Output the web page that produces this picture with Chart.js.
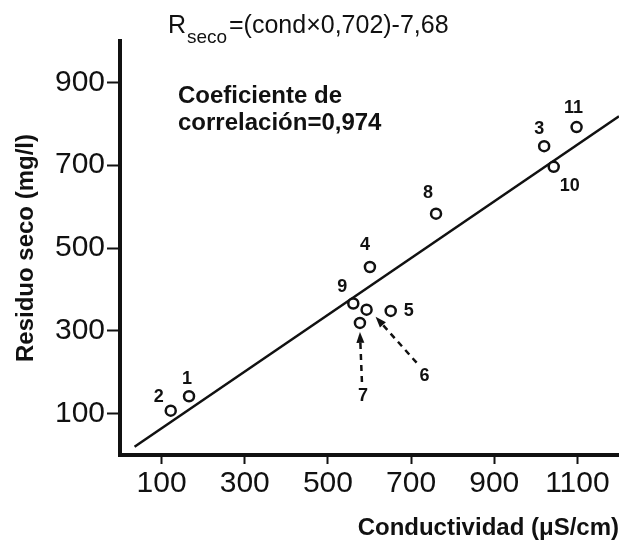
<!DOCTYPE html>
<html>
<head>
<meta charset="utf-8">
<script src="https://cdn.jsdelivr.net/npm/chart.js@4"></script>
<style>
  html, body { margin: 0; padding: 0; background: #fff; overflow: hidden; }
  canvas { display: block; }
</style>
</head>
<body>
<canvas id="myScatterChart" width="619" height="541"></canvas>
<script>
///////////////////////////////////////
////////////// Data ///////////////////
///////////////////////////////////////

// sample numbers and their readings
const pointIds = ['1', '2', '3', '4', '5', '6', '7', '8', '9', '10', '11'];
const conductividad = [166, 122, 1020, 601, 651, 593, 577, 760, 561, 1043, 1098];
const residuoSeco = [142, 107, 746, 454, 348, 351, 319, 583, 366, 696, 792];

// fitted line as drawn (two ends)
const lineX = [35, 1200];
const lineY = [20, 818];

const xTicks = [100, 300, 500, 700, 900, 1100];
const yTicks = [100, 300, 500, 700, 900];

// label offsets from each point, in px
const labelOffsets = {
    '1': [-2, -17], '2': [-12, -14], '3': [-5, -17], '4': [-5, -22],
    '5': [18, 0], '6': [58, 66], '7': [3, 73], '8': [-8, -21],
    '9': [-11, -16], '10': [16, 19], '11': [-3, -19]
};
// dashed arrows: [tail offset, head offset] from the point, in px
const arrows = {
    '6': [[50, 53], [9, 7]],
    '7': [[2, 59], [0, 9]]
};

///////////////////////////////////////
////////////// Annotations ////////////
///////////////////////////////////////

const annotations = {
    id: 'annotations',
    afterDatasetsDraw(chart) {
        const ctx = chart.ctx;
        const xs = chart.scales.x;
        const ys = chart.scales.y;
        ctx.save();
        ctx.fillStyle = '#111';
        ctx.strokeStyle = '#111';

        // equation
        ctx.textAlign = 'left';
        ctx.textBaseline = 'alphabetic';
        ctx.font = '25px "Liberation Sans", Arial, sans-serif';
        ctx.fillText('R', 168, 33);
        ctx.font = '19px "Liberation Sans", Arial, sans-serif';
        ctx.fillText('seco', 187, 43);
        ctx.font = '25px "Liberation Sans", Arial, sans-serif';
        ctx.fillText('=(cond\u00d70,702)-7,68', 229, 33);

        // correlation
        ctx.font = 'bold 24px "Liberation Sans", Arial, sans-serif';
        ctx.fillText('Coeficiente de', 178, 103);
        ctx.fillText('correlaci\u00f3n=0,974', 178, 130);

        // point numbers
        ctx.font = 'bold 18px "Liberation Sans", Arial, sans-serif';
        ctx.textAlign = 'center';
        ctx.textBaseline = 'middle';
        pointIds.forEach((id, i) => {
            const px = xs.getPixelForValue(conductividad[i]);
            const py = ys.getPixelForValue(residuoSeco[i]);
            const off = labelOffsets[id];
            ctx.fillText(id, px + off[0], py + off[1]);

            const arr = arrows[id];
            if (arr) {
                const x1 = px + arr[0][0], y1 = py + arr[0][1];
                const x2 = px + arr[1][0], y2 = py + arr[1][1];
                const ang = Math.atan2(y2 - y1, x2 - x1);
                ctx.lineWidth = 2.5;
                ctx.setLineDash([6, 5]);
                ctx.beginPath();
                ctx.moveTo(x1, y1);
                ctx.lineTo(x2 - 8 * Math.cos(ang), y2 - 8 * Math.sin(ang));
                ctx.stroke();
                ctx.setLineDash([]);
                ctx.beginPath();
                ctx.moveTo(x2, y2);
                ctx.lineTo(x2 - 11 * Math.cos(ang) + 4 * Math.sin(ang), y2 - 11 * Math.sin(ang) - 4 * Math.cos(ang));
                ctx.lineTo(x2 - 11 * Math.cos(ang) - 4 * Math.sin(ang), y2 - 11 * Math.sin(ang) + 4 * Math.cos(ang));
                ctx.closePath();
                ctx.fill();
            }
        });
        ctx.restore();
    }
};

///////////////////////////////////////
////////////// Scatter Chart //////////
///////////////////////////////////////

const tickFont = { family: '"Liberation Sans", Arial, sans-serif', size: 30 };
const titleFont = { family: '"Liberation Sans", Arial, sans-serif', size: 24, weight: 'bold', lineHeight: 1 };

const scatterChart = document.getElementById('myScatterChart');
const myScatterChart = new Chart(scatterChart, {
    type: 'scatter',
    data: {
        datasets: [
            // regression line
            {
                type: 'line',
                data: lineX.map((x, i) => ({ x: x, y: lineY[i] })),
                borderColor: '#111',
                borderWidth: 2.5,
                pointRadius: 0,
                fill: false,
                order: 2
            },
            // samples
            {
                data: conductividad.map((x, i) => ({ x: x, y: residuoSeco[i] })),
                pointStyle: 'circle',
                pointRadius: 5,
                pointBorderWidth: 2.5,
                pointBackgroundColor: '#fff',
                pointBorderColor: '#111',
                order: 1
            }
        ]
    },
    options: {
        responsive: false,
        animation: false,
        events: [],
        devicePixelRatio: 1,
        layout: {
            autoPadding: false,
            padding: { top: 41, right: 0, left: 0, bottom: 0 }
        },
        scales: {
            x: {
                type: 'linear',
                min: 0,
                max: 1200,
                afterBuildTicks: (axis) => { axis.ticks = xTicks.map(v => ({ value: v })); },
                afterFit: (axis) => {
                    axis.height = 86;
                    axis.paddingLeft = 0;
                    axis.paddingRight = 0;
                },
                ticks: {
                    color: '#111',
                    font: tickFont,
                    padding: 2,
                    maxRotation: 0,
                    autoSkip: false,
                    callback: (v) => String(v)
                },
                grid: {
                    display: true,
                    drawOnChartArea: false,
                    drawTicks: true,
                    tickLength: 9,
                    tickWidth: 2,
                    tickColor: '#111'
                },
                border: { display: true, width: 4, color: '#111' },
                title: {
                    display: true,
                    text: 'Conductividad (\u03bcS/cm)',
                    align: 'end',
                    color: '#111',
                    font: titleFont,
                    padding: { top: 0, bottom: 1 }
                }
            },
            y: {
                type: 'linear',
                min: 0,
                max: 1000,
                afterBuildTicks: (axis) => { axis.ticks = yTicks.map(v => ({ value: v })); },
                afterFit: (axis) => {
                    axis.width = 120;
                    axis.paddingTop = 0;
                    axis.paddingBottom = 0;
                },
                ticks: {
                    color: '#111',
                    font: tickFont,
                    padding: 2,
                    autoSkip: false,
                    callback: (v) => String(v)
                },
                grid: {
                    display: true,
                    drawOnChartArea: false,
                    drawTicks: true,
                    tickLength: 13,
                    tickWidth: 2,
                    tickColor: '#111'
                },
                border: { display: true, width: 4, color: '#111' },
                title: {
                    display: true,
                    text: 'Residuo seco (mg/l)',
                    color: '#111',
                    font: titleFont,
                    padding: { top: 14, bottom: 0 }
                }
            }
        },
        plugins: {
            legend: { display: false },
            tooltip: { enabled: false }
        }
    },
    plugins: [annotations]
});
</script>
</body>
</html>
